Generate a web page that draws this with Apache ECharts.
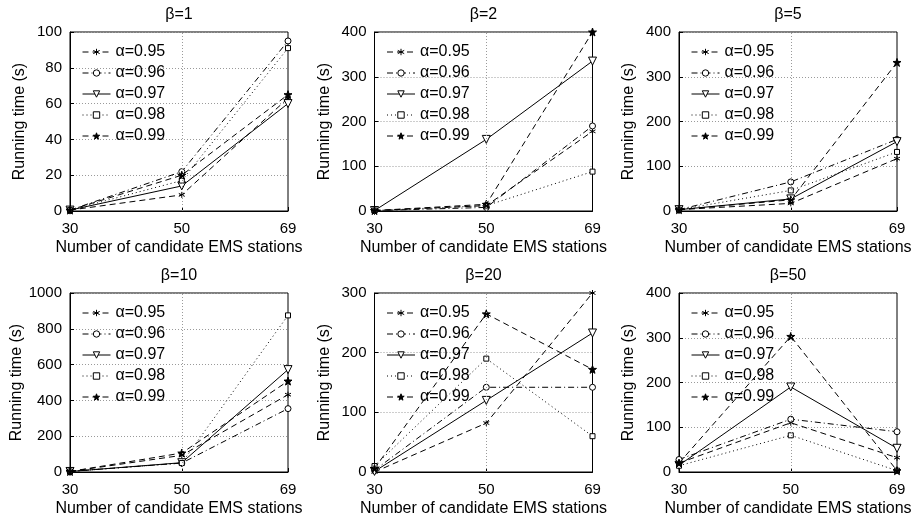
<!DOCTYPE html>
<html>
<head>
<meta charset="utf-8">
<script src="https://cdn.jsdelivr.net/npm/echarts@6/dist/echarts.min.js"></script>
<style>html,body{margin:0;padding:0;background:#fff;}#chart{width:916px;height:521px;}</style>
</head>
<body>
<div id="chart"></div>
<script>
const xValues = [30, 50, 69];
const alphaNames = ['α=0.95', 'α=0.96', 'α=0.97', 'α=0.98', 'α=0.99'];
const betaTitles = ['β=1', 'β=2', 'β=5', 'β=10', 'β=20', 'β=50'];
const yMax = [100, 400, 400, 1000, 300, 400];
const yStep = [20, 100, 100, 200, 100, 100];
const xTickLabels = [30, 50, 69];
// each row: alpha 0.95, 0.96, 0.97, 0.98, 0.99 ; values at 30, 50, 69
const beta1 = [[0.5, 9, 63], [0.5, 22, 95], [0.5, 14, 60], [0.5, 17, 91], [0.5, 20, 65]];
const beta2 = [[1, 12, 178], [1, 8, 190], [1, 160, 335], [1, 12, 88], [1, 15, 400]];
const beta5 = [[3, 17, 117], [3, 65, 160], [3, 27, 155], [3, 46, 132], [3, 25, 332]];
const beta10 = [[3, 93, 432], [3, 50, 354], [3, 52, 572], [3, 50, 875], [3, 106, 508]];
const beta20 = [[0, 82, 300], [3, 142, 142], [1, 120, 233], [10, 190, 60], [6, 265, 172]];
const beta50 = [[20, 110, 32], [28, 118, 90], [15, 190, 53], [14, 82, 3], [20, 303, 3]];
const panels = [beta1, beta2, beta5, beta10, beta20, beta50];

const FONT = "'Liberation Sans', Arial, Helvetica, sans-serif";
const starPath = 'path://M0,-10L2.35,-3.24L9.51,-3.09L3.8,1.24L5.88,8.09L0,4L-5.88,8.09L-3.8,1.24L-9.51,-3.09L-2.35,-3.24Z';
const asteriskPath = 'path://M0,-5L0,5M-4.33,-2.5L4.33,2.5M-4.33,2.5L4.33,-2.5M0,-5Z';
const downTri = 'path://M-6,-5L6,-5L0,6Z';
const styles = [
  { type: [6, 4], symbol: asteriskPath, size: 6, fill: 'none' },
  { type: [6, 3, 1, 3], symbol: 'circle', size: 6, fill: '#fff' },
  { type: 'solid', symbol: downTri, size: 8, fill: '#fff' },
  { type: [1, 3], symbol: 'rect', size: 5, fill: '#fff' },
  { type: [6, 4], symbol: starPath, size: 8, fill: '#000' }
];

const lefts = [70, 374.5, 679];
const tops = [32, 293];
const W = 218, H = 179;

const grid = [], xAxis = [], yAxis = [], series = [], title = [], legend = [];
panels.forEach((panel, p) => {
  const col = p % 3, row = Math.floor(p / 3);
  const L = lefts[col], T = tops[row];
  grid.push({ left: L, top: T, width: W, height: H, show: true, borderColor: '#000', borderWidth: 1, backgroundColor: 'transparent' });
  title.push({ text: betaTitles[p], left: L + W / 2, top: T - 25, textAlign: 'center', padding: 0,
    textStyle: { fontFamily: FONT, fontSize: 16, fontWeight: 'normal', color: '#000' } });
  xAxis.push({ gridIndex: p, type: 'value', min: 30, max: 69, interval: 10,
    name: 'Number of candidate EMS stations', nameLocation: 'middle', nameGap: 29,
    nameTextStyle: { fontFamily: FONT, fontSize: 16, color: '#000' },
    axisLine: { lineStyle: { color: '#000', width: 1 } },
    axisTick: { inside: true, length: 4, lineStyle: { color: '#000' }, customValues: xTickLabels },
    axisLabel: { fontFamily: FONT, fontSize: 15, color: '#000', margin: 10, customValues: xTickLabels },
    splitLine: { show: false } });
  yAxis.push({ gridIndex: p, type: 'value', min: 0, max: yMax[p], interval: yStep[p],
    name: 'Running time (s)', nameLocation: 'middle', nameGap: 42,
    nameTextStyle: { fontFamily: FONT, fontSize: 16, color: '#000' },
    axisLine: { lineStyle: { color: '#000', width: 1 } },
    axisTick: { inside: true, length: 4, lineStyle: { color: '#000' } },
    axisLabel: { fontFamily: FONT, fontSize: 15, color: '#000', margin: 8, formatter: v => String(v) },
    splitLine: { show: true, lineStyle: { color: '#9a9a9a', type: [1, 2], width: 1 } } });
  legend.push({ left: L + 12, top: T + 12, orient: 'vertical', padding: 0, itemWidth: 28, itemHeight: 8, itemGap: 5,
    data: alphaNames.map(n => n), selectedMode: false,
    lineStyle: { width: 1 }, itemStyle: { borderWidth: 1 },
    textStyle: { fontFamily: FONT, fontSize: 16, color: '#000', lineHeight: 16 } });
  panel.forEach((vals, s) => {
    const st = styles[s];
    const ser = {
      name: alphaNames[s], type: 'line', xAxisIndex: p, yAxisIndex: p,
      data: xValues.map((x, i) => [x, vals[i]]),
      symbol: st.symbol, symbolSize: st.size, showAllSymbol: true,
      lineStyle: { color: '#000', width: 1, type: st.type },
      itemStyle: { color: st.fill, borderColor: '#000', borderWidth: 1 },
      animation: false, silent: true, z: 3
    };
    if (s === 0) {
      ser.markLine = { silent: true, symbol: 'none', label: { show: false },
        lineStyle: { color: '#9a9a9a', type: [1, 2], width: 1 }, data: [{ xAxis: 50 }], animation: false };
    }
    series.push(ser);
  });
});

const chart = echarts.init(document.getElementById('chart'), null, { renderer: 'canvas' });
chart.setOption({ backgroundColor: '#fff', animation: false, title, legend, grid, xAxis, yAxis, series });
</script>
</body>
</html>
